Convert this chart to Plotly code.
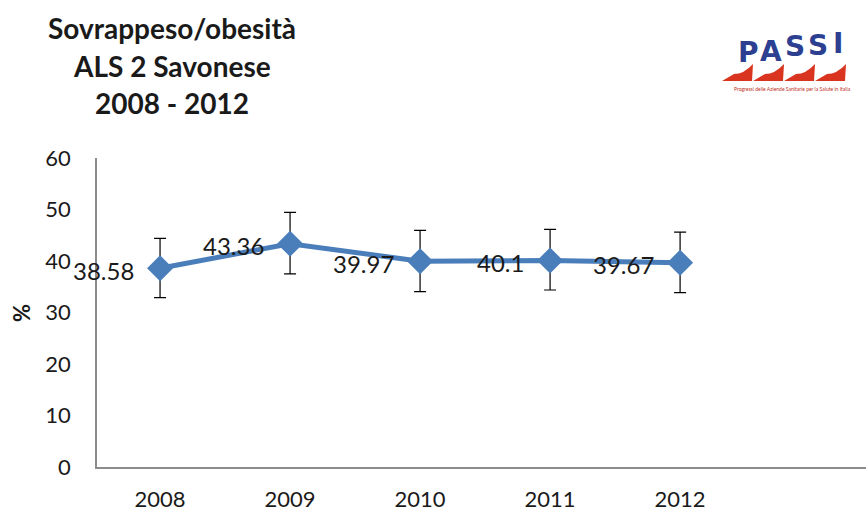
import plotly.graph_objects as go

# Overweight/obesity prevalence, ASL 2 Savonese (PASSI surveillance)
years = ["2008", "2009", "2010", "2011", "2012"]
prevalence = [38.58, 43.36, 39.97, 40.1, 39.67]
ci_upper = [44.4, 49.45, 45.96, 46.15, 45.6]
ci_lower = [32.9, 37.5, 34.04, 34.37, 33.85]
y_ticks = [0, 10, 20, 30, 40, 50, 60]
title_lines = ["Sovrappeso/obesità", "ALS 2 Savonese", "2008 - 2012"]

x_pos = list(range(len(years)))
err_plus = [u - v for u, v in zip(ci_upper, prevalence)]
err_minus = [v - l for v, l in zip(prevalence, ci_lower)]

FONT = "Lato, 'Open Sans', sans-serif"
BLUE = "#4a7ebb"
W, H = 866, 515
ML, MR, MT, MB = 97, 0, 158, 48
PW, PH = W - ML - MR, H - MT - MB


def px(x):
    """Page pixel x -> paper coordinate."""
    return (x - ML) / PW


def py(y):
    """Page pixel y -> paper coordinate."""
    return (H - MB - y) / PH


fig = go.Figure()
fig.add_trace(go.Scatter(
    x=x_pos,
    y=prevalence,
    mode="lines+markers",
    line=dict(color=BLUE, width=5),
    marker=dict(symbol="diamond", size=20, color=BLUE),
    error_y=dict(type="data", symmetric=False, array=err_plus, arrayminus=err_minus,
                 color="#000000", thickness=1.2, width=6),
    showlegend=False,
    cliponaxis=False,
))

# value labels to the left of each point
for xi, v in zip(x_pos, prevalence):
    fig.add_annotation(
        x=xi, y=v, xref="x", yref="y", text=f"{v:g}",
        xanchor="right", yanchor="middle", xshift=-24, yshift=-2,
        showarrow=False,
        font=dict(family=FONT, size=24, color="#1a1a1a"),
    )

fig.update_layout(
    width=W, height=H,
    margin=dict(l=ML, r=MR, t=MT, b=MB),
    paper_bgcolor="white", plot_bgcolor="white",
    font=dict(family=FONT, color="#1a1a1a"),
    xaxis=dict(
        range=[-0.485, 5.43],
        tickvals=x_pos, ticktext=years,
        showgrid=False, zeroline=False,
        showline=True, linecolor="#8c8c8c", linewidth=1.5,
        ticks="", ticklabelstandoff=12,
        tickfont=dict(family=FONT, size=22, color="#1a1a1a"),
    ),
    yaxis=dict(
        range=[0, 60],
        tickvals=y_ticks,
        showgrid=False, zeroline=False,
        showline=True, linecolor="#8c8c8c", linewidth=1.5,
        ticks="", ticklabelstandoff=20,
        tickfont=dict(family=FONT, size=22, color="#1a1a1a"),
    ),
)

# Title block, one line at a time
for line, y in zip(title_lines, [28, 66, 103]):
    fig.add_annotation(
        text=f"<b>{line}</b>",
        xref="paper", yref="paper", x=px(172), y=py(y),
        xanchor="center", yanchor="middle",
        showarrow=False,
        font=dict(family=FONT, size=28, color="#1a1a1a"),
    )

# Axis title
fig.add_annotation(
    text="<b>%</b>", textangle=-90,
    xref="paper", yref="paper", x=px(21), y=py(313),
    xanchor="center", yanchor="middle",
    showarrow=False,
    font=dict(family=FONT, size=22, color="#1a1a1a"),
)

# PASSI logo: staggered letters
for ch, lx, ly in [("P", 748, 53), ("A", 771, 51), ("S", 795, 47), ("S", 818, 45), ("I", 838, 43)]:
    fig.add_annotation(
        text=f"<b>{ch}</b>", xref="paper", yref="paper", x=px(lx), y=py(ly),
        xanchor="center", yanchor="middle", showarrow=False,
        font=dict(family="'DejaVu Sans', sans-serif", size=28, color="#2c3f91"),
    )
# red shoe-like wedges under the letters
for k in range(4):
    x0 = 722 + k * 31
    path = (f"M {px(x0)},{py(81)} L {px(x0 + 30)},{py(81)} L {px(x0 + 31)},{py(64)} "
            f"Q {px(x0 + 22)},{py(74)} {px(x0 + 12)},{py(74)} Z")
    fig.add_shape(type="path", xref="paper", yref="paper", path=path,
                  fillcolor="#d9341f", line=dict(width=0))
fig.add_annotation(
    text="Progressi delle Aziende Sanitarie per la Salute in Italia",
    xref="paper", yref="paper", x=px(792), y=py(89),
    xanchor="center", yanchor="middle", showarrow=False,
    font=dict(family=FONT, size=5, color="#c0301c"),
)

fig.write_html("out.html")
